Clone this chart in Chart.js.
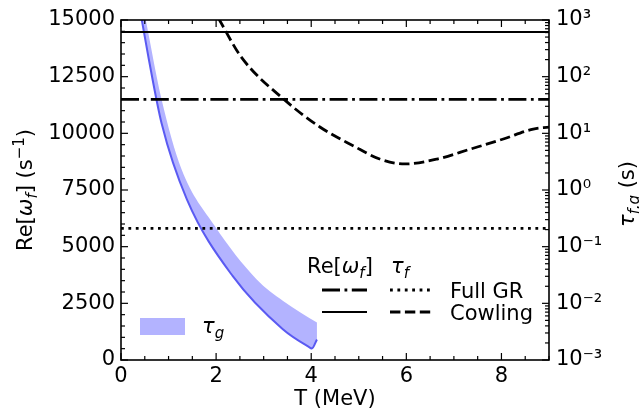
<!DOCTYPE html>
<html>
<head>
<meta charset="utf-8">
<script src="https://cdn.jsdelivr.net/npm/chart.js@4.4.0/dist/chart.umd.min.js"></script>
<style>
  html, body { margin: 0; padding: 0; background: #fff; }
  #wrap { width: 639px; height: 416px; }
</style>
</head>
<body>
<div id="wrap"><canvas id="chart"></canvas></div>
<script>
// T range (MeV) for the horizontal levels
const tRange = [0, 9];

// Re[omega_f] (s^-1), left axis
const omegaCowling = 14470;
const omegaFullGR = 11500;

// tau_f (s), right log axis
const tauFullGR = 0.21;
const tauCowT = [2.05, 2.53, 3.44, 4.19, 4.88, 5.44, 5.97, 6.65, 7.35, 8.04, 8.67, 9.0];
const tauCow  = [1070, 221, 38.9, 12.8, 6.05, 3.52, 2.88, 3.52, 5.28, 7.94, 11.9, 12.9];

// tau_g band (s), lower and upper edges
const gLowT = [0.40, 0.583, 0.856, 1.383, 2.351, 3.403, 3.971, 4.013, 4.12];
const gLow  = [1510, 207, 14.7, 0.692, 0.0301, 0.00349, 0.00166, 0.00159, 0.0023];
const gHighT = [0.40, 0.520, 0.850, 1.271, 1.972, 2.849, 3.409, 4.12];
const gHigh  = [3240, 1009, 40.6, 2.34, 0.231, 0.0267, 0.01104, 0.00458];

// tick labels
const xTicks = [0, 2, 4, 6, 8];
const yTicks = [0, 2500, 5000, 7500, 10000, 12500, 15000];
const logTicks = [1e-3, 1e-2, 1e-1, 1e0, 1e1, 1e2, 1e3];

const FONT = "'DejaVu Sans', sans-serif";
const BAND = '#b3b3ff';
const BAND_LINE = '#5a5af2';

const pts = (xs, ys) => xs.map((x, i) => ({ x: x, y: ys[i] }));
const sup = { '-': '\u207B', '0': '\u2070', '1': '\u00B9', '2': '\u00B2', '3': '\u00B3' };

// draw a string made of pieces: [text, size, italic, dy]
function rich(ctx, parts, x, y, align) {
  let w = 0;
  parts.forEach(p => {
    ctx.font = (p[2] ? 'italic ' : '') + p[1] + 'px ' + FONT;
    w += ctx.measureText(p[0]).width;
  });
  let cx = align === 'center' ? x - w / 2 : x;
  ctx.textAlign = 'left';
  ctx.textBaseline = 'alphabetic';
  parts.forEach(p => {
    ctx.font = (p[2] ? 'italic ' : '') + p[1] + 'px ' + FONT;
    ctx.fillText(p[0], cx, y + (p[3] || 0));
    cx += ctx.measureText(p[0]).width;
  });
}

function seg(ctx, x1, y1, x2, y2, dash, lw) {
  ctx.save();
  ctx.lineWidth = lw;
  ctx.setLineDash(dash);
  ctx.beginPath();
  ctx.moveTo(x1, y1);
  ctx.lineTo(x2, y2);
  ctx.stroke();
  ctx.restore();
}

const decor = {
  id: 'decor',
  afterDatasetsDraw(chart) {
    const { ctx, chartArea: a, scales } = chart;
    ctx.save();
    ctx.strokeStyle = '#000';
    ctx.fillStyle = '#000';

    // inward ticks
    for (let v = 0; v <= 9; v += 0.5) {
      const x = scales.x.getPixelForValue(v);
      const L = v % 2 === 0 ? 7 : 4;
      seg(ctx, x, a.bottom, x, a.bottom - L, [], 1.2);
      seg(ctx, x, a.top, x, a.top + L, [], 1.2);
    }
    for (let v = 0; v <= 15000; v += 500) {
      const y = scales.y.getPixelForValue(v);
      const L = v % 2500 === 0 ? 7 : 4;
      seg(ctx, a.left, y, a.left + L, y, [], 1.2);
    }
    for (let e = -3; e <= 3; e++) {
      for (let m = 1; m < 10; m++) {
        if (e === 3 && m > 1) break;
        const y = scales.y2.getPixelForValue(m * Math.pow(10, e));
        const L = m === 1 ? 7 : 4;
        seg(ctx, a.right, y, a.right - L, y, [], 1.2);
      }
    }

    // frame
    ctx.lineWidth = 1.6;
    ctx.strokeRect(a.left, a.top, a.width, a.height);

    // axis titles
    rich(ctx, [['T (MeV)', 21]], 335, 405, 'center');

    ctx.save();
    ctx.translate(32, 190);
    ctx.rotate(-Math.PI / 2);
    rich(ctx, [['Re[', 21], ['\u03C9', 21, true], ['f', 15, true, 5], ['] (s', 21], ['\u22121', 15, false, -8], [')', 21]], 0, 0, 'center');
    ctx.restore();

    ctx.save();
    ctx.translate(634, 194);
    ctx.rotate(-Math.PI / 2);
    rich(ctx, [['\u03C4', 21, true], ['f,g', 15, true, 5], [' (s)', 21]], 0, 0, 'center');
    ctx.restore();

    // legend table
    rich(ctx, [['Re[', 21], ['\u03C9', 21, true], ['f', 15, true, 5], [']', 21]], 307, 273, 'left');
    rich(ctx, [['\u03C4', 21, true], ['f', 15, true, 5]], 391, 273, 'left');
    seg(ctx, 322, 290, 367, 290, [18, 4.5, 2.8, 4.5], 2.8);
    seg(ctx, 390, 290, 434, 290, [2.8, 4.6], 2.8);
    rich(ctx, [['Full GR', 21]], 450, 298, 'left');
    seg(ctx, 322, 312, 367, 312, [], 2.2);
    seg(ctx, 390, 312, 434, 312, [10.4, 4.5], 2.8);
    rich(ctx, [['Cowling', 21]], 450, 320, 'left');

    // tau_g legend
    ctx.fillStyle = BAND;
    ctx.fillRect(140, 318, 45, 17);
    ctx.fillStyle = '#000';
    rich(ctx, [['\u03C4', 21, true], ['g', 15, true, 5]], 202, 333, 'left');

    ctx.restore();
  }
};

const lineBase = { pointRadius: 0, fill: false, borderColor: '#000', borderWidth: 2.8 };

new Chart(document.getElementById('chart'), {
  type: 'line',
  data: {
    datasets: [
      Object.assign({}, lineBase, { label: 'Re Cowling', data: pts(tRange, [omegaCowling, omegaCowling]), yAxisID: 'y', borderWidth: 2.2 }),
      Object.assign({}, lineBase, { label: 'Re Full GR', data: pts(tRange, [omegaFullGR, omegaFullGR]), yAxisID: 'y', borderDash: [18, 4.5, 2.8, 4.5] }),
      Object.assign({}, lineBase, { label: 'tau Full GR', data: pts(tRange, [tauFullGR, tauFullGR]), yAxisID: 'y2', borderDash: [2.8, 4.6] }),
      Object.assign({}, lineBase, { label: 'tau Cowling', data: pts(tauCowT, tauCow), yAxisID: 'y2', borderDash: [10.4, 4.5], cubicInterpolationMode: 'monotone' }),
      Object.assign({}, lineBase, { label: 'tau_g low', data: pts(gLowT, gLow), yAxisID: 'y2', borderColor: BAND_LINE, borderWidth: 2, cubicInterpolationMode: 'monotone' }),
      Object.assign({}, lineBase, { label: 'tau_g high', data: pts(gHighT, gHigh), yAxisID: 'y2', borderColor: 'rgba(0,0,0,0)', borderWidth: 1, backgroundColor: BAND, fill: '-1', cubicInterpolationMode: 'monotone' })
    ]
  },
  options: {
    responsive: true,
    maintainAspectRatio: false,
    animation: false,
    layout: { padding: { top: 20, left: 0, right: 0, bottom: 0 } },
    plugins: { legend: { display: false }, tooltip: { enabled: false } },
    scales: {
      x: {
        type: 'linear', min: 0, max: 9,
        afterBuildTicks: s => { s.ticks = xTicks.map(v => ({ value: v })); },
        afterFit: s => { s.height = 56; },
        ticks: { font: { family: FONT, size: 21 }, color: '#000', padding: 4, maxRotation: 0, callback: v => String(v) },
        grid: { display: false, drawTicks: false },
        border: { display: false }
      },
      y: {
        position: 'left', min: 0, max: 15000,
        afterBuildTicks: s => { s.ticks = yTicks.map(v => ({ value: v })); },
        afterFit: s => { s.width = 121; },
        ticks: { font: { family: FONT, size: 21 }, color: '#000', padding: 6, callback: v => String(v) },
        grid: { display: false, drawTicks: false },
        border: { display: false }
      },
      y2: {
        type: 'logarithmic', position: 'right', min: 1e-3, max: 1e3,
        afterBuildTicks: s => { s.ticks = logTicks.map(v => ({ value: v })); },
        afterFit: s => { s.width = 90; },
        ticks: {
          font: { family: FONT, size: 21 }, color: '#000', padding: 7,
          callback: v => '10' + String(Math.round(Math.log10(v))).split('').map(c => sup[c]).join('')
        },
        grid: { display: false, drawTicks: false },
        border: { display: false }
      }
    }
  },
  plugins: [decor]
});
</script>
</body>
</html>
